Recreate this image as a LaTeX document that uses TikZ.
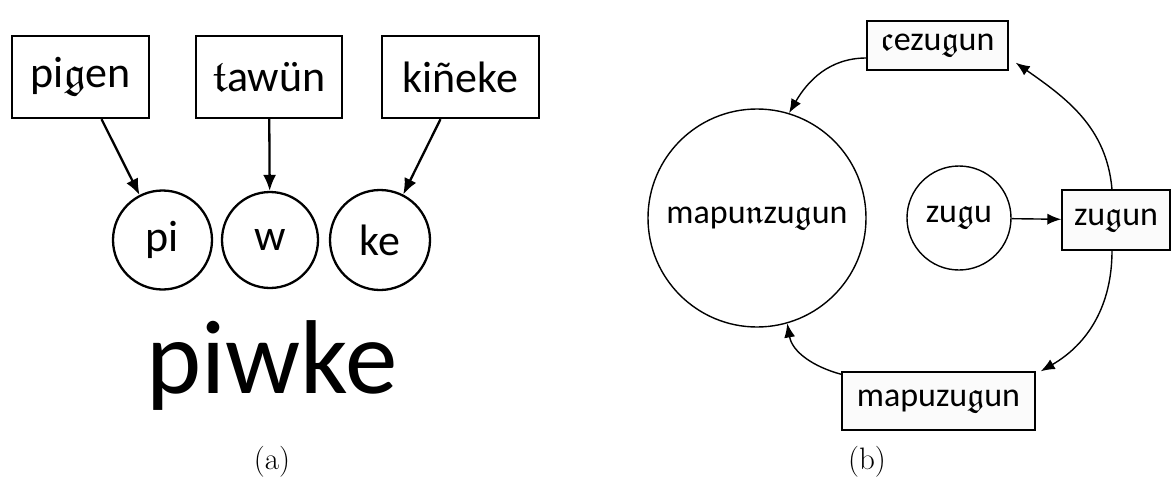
\documentclass[tikz,border=0pt]{standalone}
\usepackage{fontspec}
\newfontfamily\labelfont{Carlito}
% Euler Fraktur, scalable to any size
\DeclareFontFamily{U}{euf}{}
\DeclareFontShape{U}{euf}{m}{n}{<-6>eufm5<6-8>eufm7<8->eufm10}{}
\newcommand\frk[1]{{\usefont{U}{euf}{m}{n}#1}}
\usetikzlibrary{arrows.meta}
\tikzset{
  lfont/.style={font=\labelfont\fontsize{44}{50}\selectfont},
  rfont/.style={font=\labelfont\fontsize{34}{40}\selectfont},
  leftbox/.style={draw, line width=2.3pt, inner sep=0pt, minimum height=82pt, lfont},
  leftcirc/.style={draw, circle, line width=2.3pt, inner sep=0pt, lfont},
  leftarrow/.style={-{Latex[length=16pt,width=13pt]}, line width=2.3pt},
  rightbox/.style={draw, fill=black!1.5, line width=1.4pt, inner sep=0pt, rfont},
  rightcirc/.style={draw, circle, line width=1.4pt, inner sep=0pt, rfont},
  rightarrow/.style={-{Latex[length=14pt,width=11pt]}, line width=1.4pt},
  caption/.style={font=\fontsize{31}{36}\selectfont},
}
\begin{document}
\begin{tikzpicture}[x=1pt,y=1pt]
\useasboundingbox (0,0) rectangle (1173,-479);

% (a) word formation
\node[leftbox, minimum width=137pt] (pigen) at (80.5,-77) {pi\frk{g}en};
\node[leftbox, minimum width=146pt] (tawun) at (269,-77) {\frk{t}awün};
\node[leftbox, minimum width=157pt] (kineke) at (460.5,-77) {kiñeke};

\node[leftcirc, minimum size=99pt] (pi) at (162.5,-240) {pi};
\node[leftcirc, minimum size=96pt] (w) at (270,-240) {w};
\node[leftcirc, minimum size=100pt] (ke) at (380,-240) {ke};

\draw[leftarrow] ([xshift=21pt]pigen.south) -- (pi.117);
\draw[leftarrow] (tawun) -- (w);
\draw[leftarrow] ([xshift=-20pt]kineke.south) -- (ke.63);

\node[anchor=base, font=\labelfont\fontsize{105}{110}\selectfont] (piwke) at (272,-393) {piwke};
\node[caption] (capa) at (272,-462) {(a)};

% (b) derivation cycle
\node[rightbox, minimum width=141pt, minimum height=49pt] (cez) at (937.5,-45.5) {\frk{c}ezu\frk{g}un};
\node[rightcirc, minimum size=218pt] (mapunz) at (757,-218) {mapu\frk{n}zu\frk{g}un};
\node[rightcirc, minimum size=104pt] (zugu) at (959,-218) {zu\frk{g}u};
\node[rightbox, minimum width=108pt, minimum height=60pt] (zugun) at (1116,-220) {zu\frk{g}un};
\node[rightbox, minimum width=193pt, minimum height=58pt] (mapuz) at (938.5,-401) {mapuzu\frk{g}un};

\draw[rightarrow] (zugu) -- (zugun);
\draw[rightarrow] ([xshift=-4pt]zugun.north) to[out=95, in=-35] ([xshift=7pt,yshift=8pt]cez.south east);
\draw[rightarrow] ([yshift=-12.5pt]cez.west) to[out=180, in=60] (mapunz.73);
\draw[rightarrow] ([xshift=-4pt]zugun.south) to[out=-90, in=30] ([xshift=5pt]mapuz.north east);
\draw[rightarrow] ([yshift=-3pt]mapuz.north west) to[out=165, in=-80] (mapunz.-74);

\node[caption] (capb) at (867,-462) {(b)};
\end{tikzpicture}
\end{document}
